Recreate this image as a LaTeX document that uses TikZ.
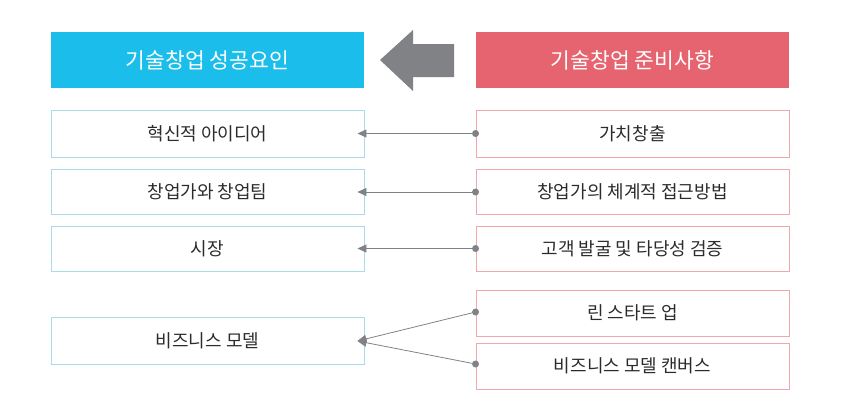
\documentclass[tikz,border=0pt]{standalone}
\usepackage{fontspec}
\setmainfont{Noto Sans CJK KR}
\newfontfamily\kor{Noto Sans CJK KR}
\usetikzlibrary{arrows.meta}
\definecolor{hblue}{HTML}{1BBEEA}
\definecolor{hred}{HTML}{E5646F}
\definecolor{bblue}{HTML}{A9DCE9}
\definecolor{bred}{HTML}{F2A7AE}
\definecolor{agray}{HTML}{808285}
\definecolor{ltext}{HTML}{2B2B2B}
\begin{document}
\begin{tikzpicture}[x=1pt,y=-1pt,
  hdr/.style={minimum width=313pt,minimum height=56pt,inner sep=0pt,text=white,font=\kor\fontsize{21.5}{24}\selectfont},
  lbox/.style={draw=bblue,line width=0.9pt,minimum width=313pt,inner sep=0pt,text=ltext,font=\kor\fontsize{18}{20}\selectfont},
  rbox/.style={draw=bred,line width=0.9pt,minimum width=313pt,inner sep=0pt,text=ltext,font=\kor\fontsize{18}{20}\selectfont},
  conn/.style={draw=agray,line width=0.8pt,-{Triangle[length=9pt,width=8pt]},shorten >=0pt},
  dotc/.style={circle,fill=agray,inner sep=0pt,minimum size=7pt}
]
\useasboundingbox (0,0) rectangle (841,415);
\node[hdr,fill=hblue] (hl) at (207.5,60) {기술창업 성공요인};
\node[hdr,fill=hred] (hr) at (632.5,60) {기술창업 준비사항};
% big arrow
\fill[agray] (380,60) -- (413,30) -- (413,44) -- (454,44) -- (454,77) -- (413,77) -- (413,91) -- cycle;
% left boxes
\node[lbox,minimum height=47pt] (l1) at (207.5,133.5) {혁신적 아이디어};
\node[lbox,minimum height=45pt] (l2) at (207.5,192) {창업가와 창업팀};
\node[lbox,minimum height=45pt] (l3) at (207.5,248.5) {시장};
\node[lbox,minimum height=47pt] (l4) at (207.5,341) {비즈니스 모델};
% right boxes
\node[rbox,minimum height=47pt] (r1) at (632.5,133.5) {가치창출};
\node[rbox,minimum height=45pt] (r2) at (632.5,192) {창업가의 체계적 접근방법};
\node[rbox,minimum height=45pt] (r3) at (632.5,248.5) {고객 발굴 및 타당성 검증};
\node[rbox,minimum height=46pt] (r4) at (632.5,313) {린 스타트 업};
\node[rbox,minimum height=46pt] (r5) at (632.5,366) {비즈니스 모델 캔버스};
% dots
\node[dotc] (d1) at (r1.west) {};
\node[dotc] (d2) at (r2.west) {};
\node[dotc] (d3) at (r3.west) {};
\node[dotc] (d4) at ([yshift=1pt]r4.west) {};
\node[dotc] (d5) at ([yshift=2pt]r5.west) {};
\coordinate (t1) at ([xshift=-7pt]l1.east);
\coordinate (t2) at ([xshift=-7pt]l2.east);
\coordinate (t3) at ([xshift=-7pt]l3.east);
\coordinate (t4) at ([xshift=-7pt]l4.east);
\draw[conn] (d1.center) -- (t1);
\draw[conn] (d2.center) -- (t2);
\draw[conn] (d3.center) -- (t3);
\draw[conn] (d4.center) -- (t4);
\draw[conn] (d5.center) -- (t4);
\end{tikzpicture}
\end{document}
